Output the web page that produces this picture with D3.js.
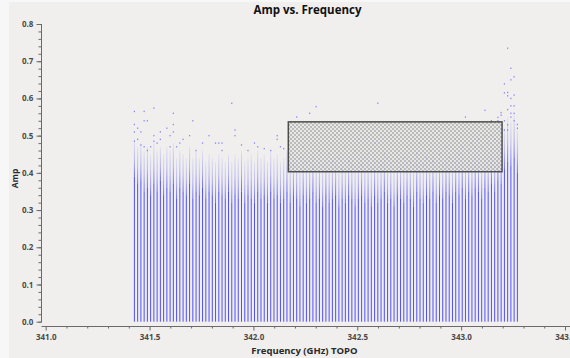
<!DOCTYPE html>
<html>
<head>
<meta charset="utf-8">
<script src="https://cdn.jsdelivr.net/npm/d3@7"></script>
<style>
  html, body { margin: 0; padding: 0; background: #f7f7f7; }
  svg { display: block; font-family: "Open Sans", "Liberation Sans", sans-serif; }
</style>
</head>
<body>
<svg id="chart" width="570" height="358"></svg>
<script>
// Channel centre frequencies (GHz, TOPO)
const chanFreq = [
  341.4270, 341.4426, 341.4583, 341.4739, 341.4895, 341.5051, 341.5208, 341.5364, 341.5520, 341.5676,
  341.5833, 341.5989, 341.6145, 341.6301, 341.6458, 341.6614, 341.6770, 341.6926, 341.7083, 341.7239,
  341.7395, 341.7551, 341.7708, 341.7864, 341.8020, 341.8176, 341.8333, 341.8489, 341.8645, 341.8801,
  341.8958, 341.9114, 341.9270, 341.9426, 341.9583, 341.9739, 341.9895, 342.0051, 342.0208, 342.0364,
  342.0520, 342.0676, 342.0833, 342.0989, 342.1145, 342.1301, 342.1458, 342.1614, 342.1770, 342.1926,
  342.2083, 342.2239, 342.2395, 342.2551, 342.2708, 342.2864, 342.3020, 342.3176, 342.3333, 342.3489,
  342.3645, 342.3801, 342.3958, 342.4114, 342.4270, 342.4426, 342.4583, 342.4739, 342.4895, 342.5051,
  342.5208, 342.5364, 342.5520, 342.5676, 342.5833, 342.5989, 342.6145, 342.6301, 342.6458, 342.6614,
  342.6770, 342.6926, 342.7083, 342.7239, 342.7395, 342.7551, 342.7708, 342.7864, 342.8020, 342.8176,
  342.8333, 342.8489, 342.8645, 342.8801, 342.8958, 342.9114, 342.9270, 342.9426, 342.9583, 342.9739,
  342.9895, 343.0051, 343.0208, 343.0364, 343.0520, 343.0676, 343.0833, 343.0989, 343.1145, 343.1301,
  343.1458, 343.1614, 343.1770, 343.1926, 343.2083, 343.2239, 343.2395, 343.2551, 343.2708
];

// Amplitude below which each channel's points pile up into a solid column
const solidTop = [
  0.39, 0.37, 0.38, 0.35, 0.36, 0.34, 0.37, 0.35, 0.38, 0.34,
  0.36, 0.35, 0.37, 0.33, 0.36, 0.35, 0.34, 0.37, 0.33, 0.35,
  0.34, 0.36, 0.33, 0.35, 0.34, 0.32, 0.35, 0.34, 0.33, 0.35,
  0.32, 0.34, 0.33, 0.35, 0.32, 0.34, 0.33, 0.32, 0.35, 0.33,
  0.34, 0.32, 0.35, 0.33, 0.34, 0.32, 0.33, 0.35, 0.32, 0.34,
  0.33, 0.31, 0.34, 0.32, 0.33, 0.35, 0.32, 0.33, 0.31, 0.34,
  0.32, 0.33, 0.34, 0.31, 0.33, 0.32, 0.34, 0.33, 0.31, 0.33,
  0.34, 0.32, 0.33, 0.31, 0.34, 0.32, 0.33, 0.35, 0.32, 0.33,
  0.31, 0.34, 0.33, 0.32, 0.34, 0.33, 0.31, 0.35, 0.33, 0.32,
  0.34, 0.33, 0.35, 0.32, 0.34, 0.33, 0.35, 0.34, 0.32, 0.35,
  0.34, 0.36, 0.33, 0.35, 0.34, 0.36, 0.35, 0.33, 0.36, 0.35,
  0.37, 0.35, 0.38, 0.37, 0.41, 0.43, 0.42, 0.44, 0.40
];

// Amplitude where the thinning upper spread of each channel ends
const spreadTop = [
  0.49, 0.47, 0.48, 0.46, 0.47, 0.45, 0.48, 0.46, 0.47, 0.45,
  0.47, 0.46, 0.48, 0.44, 0.46, 0.45, 0.44, 0.47, 0.44, 0.46,
  0.44, 0.46, 0.43, 0.45, 0.44, 0.43, 0.45, 0.44, 0.43, 0.45,
  0.43, 0.45, 0.44, 0.46, 0.43, 0.44, 0.45, 0.43, 0.46, 0.44,
  0.45, 0.43, 0.46, 0.44, 0.45, 0.43, 0.44, 0.46, 0.43, 0.45,
  0.44, 0.42, 0.45, 0.43, 0.44, 0.46, 0.43, 0.44, 0.42, 0.45,
  0.43, 0.44, 0.45, 0.42, 0.44, 0.43, 0.45, 0.44, 0.42, 0.44,
  0.45, 0.43, 0.44, 0.42, 0.45, 0.43, 0.44, 0.46, 0.43, 0.44,
  0.42, 0.45, 0.44, 0.43, 0.45, 0.44, 0.42, 0.46, 0.44, 0.43,
  0.45, 0.44, 0.46, 0.43, 0.45, 0.44, 0.46, 0.45, 0.43, 0.46,
  0.45, 0.47, 0.44, 0.46, 0.45, 0.47, 0.46, 0.44, 0.47, 0.46,
  0.48, 0.46, 0.49, 0.48, 0.52, 0.55, 0.54, 0.56, 0.52
];

// Isolated high-amplitude points: channel index and amplitude
const outlierChan = [
  0, 0, 0, 0, 1, 1, 2, 2, 3, 3, 3, 4, 4, 5, 6, 6, 6, 7, 8, 8,
  10, 11, 11, 12, 12, 12, 13, 14, 15, 17, 18, 19, 21, 23, 25, 26, 27, 27,
  30, 31, 31, 33, 35, 37, 38, 40, 42, 44, 44, 45, 46, 50, 54, 56,
  48, 49, 51, 52, 53, 55, 57, 58, 60, 61, 62, 63, 64, 65, 66, 67, 68, 69,
  70, 71, 72, 73, 74, 75, 75, 76, 77, 78, 79, 80, 81, 82, 83, 84, 85, 86,
  87, 88, 89, 90, 91, 92, 93, 94, 95, 96, 97, 98, 99, 100,
  101, 102, 103, 104, 105, 106, 107, 108, 108, 109, 110, 110, 111, 112, 112, 112,
  113, 113, 113, 114, 114, 114, 114, 115, 115, 115, 115, 115, 115,
  116, 116, 116, 116, 116, 116, 117, 117, 117, 117, 117, 118, 118
];
const outlierAmp = [
  0.565, 0.530, 0.510, 0.485, 0.520, 0.490, 0.510, 0.475, 0.565, 0.540, 0.470, 0.540, 0.460, 0.470, 0.574, 0.500, 0.485, 0.480, 0.510, 0.490,
  0.520, 0.500, 0.470, 0.560, 0.530, 0.510, 0.470, 0.480, 0.490, 0.500, 0.540, 0.460, 0.480, 0.500, 0.480, 0.480, 0.480, 0.460,
  0.587, 0.515, 0.500, 0.475, 0.460, 0.480, 0.470, 0.465, 0.460, 0.500, 0.490, 0.470, 0.465, 0.550, 0.560, 0.578,
  0.450, 0.420, 0.440, 0.470, 0.430, 0.410, 0.460, 0.420, 0.450, 0.430, 0.500, 0.440, 0.410, 0.470, 0.430, 0.420, 0.460, 0.490,
  0.420, 0.440, 0.450, 0.410, 0.480, 0.587, 0.430, 0.420, 0.450, 0.440, 0.500, 0.430, 0.460, 0.410, 0.440, 0.470, 0.430, 0.420,
  0.450, 0.480, 0.420, 0.440, 0.460, 0.430, 0.520, 0.450, 0.420, 0.470, 0.440, 0.430, 0.490, 0.450,
  0.470, 0.550, 0.460, 0.480, 0.470, 0.490, 0.470, 0.568, 0.500, 0.480, 0.540, 0.500, 0.490, 0.549, 0.540, 0.520,
  0.562, 0.555, 0.510, 0.639, 0.615, 0.540, 0.515, 0.735, 0.616, 0.607, 0.570, 0.529, 0.515,
  0.681, 0.650, 0.600, 0.580, 0.560, 0.550, 0.658, 0.609, 0.580, 0.560, 0.540, 0.530, 0.520
];

// Flagging selection box (frequency range, amplitude range)
const boxFreq = [342.168, 343.197];
const boxAmp = [0.403, 0.537];

// Axis ticks and labels
const xMajor = [341.0, 341.5, 342.0, 342.5, 343.0, 343.5];
const yMajor = [0.0, 0.1, 0.2, 0.3, 0.4, 0.5, 0.6, 0.7, 0.8];

const svg = d3.select("#chart");
const ptColor = "#4f4fff";

const x = d3.scaleLinear().domain([341.0, 343.5]).range([45.7, 565.0]);
const y = d3.scaleLinear().domain([0, 0.8]).range([321.7, 24.0]);

// widget background
svg.append("rect").attr("x", 9).attr("y", 2).attr("width", 561).attr("height", 356).attr("fill", "#f0efed");

const defs = svg.append("defs");
const grad = defs.append("linearGradient").attr("id", "spread").attr("x1", 0).attr("y1", 1).attr("x2", 0).attr("y2", 0);
grad.append("stop").attr("offset", "0%").attr("stop-color", ptColor).attr("stop-opacity", 0.85);
grad.append("stop").attr("offset", "45%").attr("stop-color", ptColor).attr("stop-opacity", 0.38);
grad.append("stop").attr("offset", "100%").attr("stop-color", ptColor).attr("stop-opacity", 0.08);

const pat = defs.append("pattern").attr("id", "dense").attr("width", 4).attr("height", 4)
  .attr("patternUnits", "userSpaceOnUse");
pat.append("rect").attr("width", 4).attr("height", 4).attr("fill", "#e6e6e6");
pat.append("rect").attr("x", 0).attr("y", 0).attr("width", 2).attr("height", 2).attr("fill", "#acacac");
pat.append("rect").attr("x", 2).attr("y", 2).attr("width", 2).attr("height", 2).attr("fill", "#acacac");

const plot = svg.append("g");

// solid part of each channel column
plot.selectAll("rect.solid").data(chanFreq).join("rect")
  .attr("class", "solid")
  .attr("x", d => x(d) - 0.5)
  .attr("width", 1)
  .attr("y", (d, i) => y(solidTop[i]))
  .attr("height", (d, i) => y(0) - y(solidTop[i]))
  .attr("fill", ptColor);

// thinning spread above it
plot.selectAll("rect.spread").data(chanFreq).join("rect")
  .attr("class", "spread")
  .attr("x", d => x(d) - 0.5)
  .attr("width", 1)
  .attr("y", (d, i) => y(spreadTop[i]))
  .attr("height", (d, i) => y(solidTop[i]) - y(spreadTop[i]))
  .attr("fill", "url(#spread)");

// isolated points
plot.selectAll("rect.pt").data(outlierChan).join("rect")
  .attr("class", "pt")
  .attr("x", d => x(chanFreq[d]) - 0.6)
  .attr("y", (d, i) => y(outlierAmp[i]) - 0.7)
  .attr("width", 1.2)
  .attr("height", 1.4)
  .attr("fill", ptColor)
  .attr("opacity", 0.65);

// selection box
svg.append("rect")
  .attr("x", x(boxFreq[0]))
  .attr("y", y(boxAmp[1]))
  .attr("width", x(boxFreq[1]) - x(boxFreq[0]))
  .attr("height", y(boxAmp[0]) - y(boxAmp[1]))
  .attr("fill", "url(#dense)")
  .attr("fill-opacity", 0.78)
  .attr("stroke", "#4d4d4d")
  .attr("stroke-width", 1.5);

// axes
const axisColor = "#6a6a6a";
const labelColor = "#4a4a4a";

const gy = svg.append("g").attr("transform", "translate(41.5,0)");
gy.call(d3.axisLeft(y).tickValues(y.ticks(40)).tickSize(3).tickFormat(""));
gy.call(g => g.selectAll(".tick line").attr("stroke", axisColor));
gy.select(".domain").remove();
const gyMajor = svg.append("g").attr("transform", "translate(41.5,0)")
  .call(d3.axisLeft(y).tickValues(yMajor).tickSize(5).tickPadding(3.2).tickFormat(d3.format(".1f")));
gyMajor.select(".domain").attr("stroke", axisColor).attr("d", `M0,${y(0.8)}V${y(0) + 0.5}`);
gyMajor.selectAll(".tick line").attr("stroke", axisColor);
gyMajor.selectAll(".tick text").attr("fill", labelColor).attr("font-size", 8).attr("font-weight", 700)
  .attr("font-family", "'Open Sans', sans-serif");

const xMinorTicks = x.ticks(25).filter(v => !xMajor.some(m => Math.abs(m - v) < 1e-6));
const gx = svg.append("g").attr("transform", "translate(0,326.5)");
gx.call(d3.axisBottom(x).tickValues(xMinorTicks).tickSize(2).tickFormat(""));
gx.select(".domain").remove();
gx.selectAll(".tick line").attr("stroke", axisColor);
const gxMajor = svg.append("g").attr("transform", "translate(0,326.5)")
  .call(d3.axisBottom(x).tickValues(xMajor).tickSize(4).tickPadding(3.8).tickFormat(d3.format(".1f")));
gxMajor.select(".domain").attr("stroke", axisColor).attr("d", "M41.5,0H570");
gxMajor.selectAll(".tick line").attr("stroke", axisColor);
gxMajor.selectAll(".tick text").attr("fill", labelColor).attr("font-size", 8).attr("font-weight", 700)
  .attr("font-family", "'Open Sans', sans-serif");

// titles
svg.append("text").attr("x", 307.5).attr("y", 14.2).attr("text-anchor", "middle")
  .attr("font-size", 11.5).attr("font-weight", 700).attr("fill", "#111").text("Amp vs. Frequency");
svg.append("text").attr("x", 304.5).attr("y", 354).attr("text-anchor", "middle")
  .attr("font-size", 9.5).attr("font-weight", 700).attr("fill", "#2a2a2a").text("Frequency (GHz) TOPO");
svg.append("text").attr("transform", "translate(18,178.5) rotate(-90)").attr("text-anchor", "middle")
  .attr("font-size", 8.5).attr("font-weight", 700).attr("fill", "#2a2a2a").text("Amp");
</script>
</body>
</html>
